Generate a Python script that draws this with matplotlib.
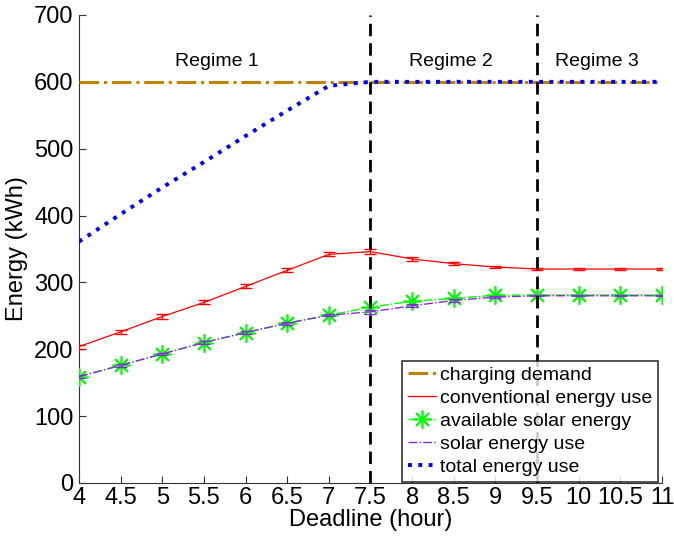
import matplotlib
matplotlib.use("Agg")
import matplotlib.pyplot as plt
from matplotlib.lines import Line2D

plt.rcParams['font.family'] = ['Liberation Sans', 'DejaVu Sans']

deadline = [4, 4.5, 5, 5.5, 6, 6.5, 7, 7.5, 8, 8.5, 9, 9.5, 10, 10.5, 11]
charging_demand = [600] * 15
conventional = [204, 226, 249, 270, 294, 318, 342, 346, 335, 328, 323, 320, 320, 320, 320]
conventional_err = [3, 3, 3, 3, 3, 3, 3, 4, 3, 2, 2, 2, 1, 1, 1]
available_solar = [159, 176, 193, 210, 225, 239, 251, 263, 272, 276, 281, 281, 281, 281, 281]
solar_use = [159, 176, 193, 210, 225, 239, 251, 256, 265, 273, 278, 280, 280, 280, 280]
solar_err = [2, 2, 2, 2, 2, 2, 2, 3, 2, 2, 2, 1, 1, 1, 1]
total_use = [361, 402, 442, 480, 519, 557, 594, 600, 600, 600, 600, 600, 600, 600, 600]
regime_bounds = [7.5, 9.5]
regime_labels = ["Regime 1", "Regime 2", "Regime 3"]
regime_label_x = [5.65, 8.47, 10.22]
xticks = [4, 4.5, 5, 5.5, 6, 6.5, 7, 7.5, 8, 8.5, 9, 9.5, 10, 10.5, 11]
xticklabels = ["4", "4.5", "5", "5.5", "6", "6.5", "7", "7.5", "8", "8.5", "9", "9.5", "10", "10.5", "11"]
legend_labels = ['charging demand', 'conventional energy use', 'available solar energy',
                 'solar energy use', 'total energy use']

fig = plt.figure(figsize=(6.74, 5.4), dpi=100)
ax = fig.add_axes([0.1172, 0.1056, 0.865, 0.8667])

c_dem, c_conv, c_avail, c_use, c_tot = '#C08000', 'red', '#00FF00', '#8A2BE2', 'blue'

ax.plot(deadline, charging_demand, color=c_dem, linestyle='-.', linewidth=2.2, zorder=3)
ax.errorbar(deadline, conventional, yerr=conventional_err, color=c_conv, linewidth=0.9,
            capsize=4, elinewidth=0.9, zorder=3)
ax.plot(deadline, available_solar, color=c_avail, linestyle='-.', linewidth=1,
        marker=(8, 2, 0), markersize=13, markeredgewidth=1.2, zorder=3)
ax.errorbar(deadline, solar_use, yerr=solar_err, color=c_use, linestyle='-.', linewidth=1,
            capsize=4, elinewidth=0.9, zorder=4)
ax.plot(deadline, total_use, color=c_tot, linestyle=':', linewidth=2.8, zorder=4)

for xb in regime_bounds:
    ax.axvline(xb, color='black', linestyle='--', linewidth=2, dashes=(4.5, 2.5), zorder=5)

for xl, lab in zip(regime_label_x, regime_labels):
    ax.text(xl, 630, lab, ha='center', va='center', fontsize=14)

ax.set_xlim(4, 11)
ax.set_ylim(0, 700)
ax.set_xticks(xticks)
ax.set_xticklabels(xticklabels)
ax.set_yticks(range(0, 701, 100))
ax.spines['top'].set_visible(False)
ax.spines['right'].set_visible(False)
for s in ('left', 'bottom'):
    ax.spines[s].set_color('#333333')
ax.tick_params(direction='in', labelsize=17, length=5, colors='#333333', labelcolor='black')
ax.tick_params(axis='x', pad=3)
ax.tick_params(axis='y', pad=4)
ax.set_xlabel('Deadline (hour)', fontsize=17, labelpad=0)
ax.set_ylabel('Energy (kWh)', fontsize=17, labelpad=4)

handles = [
    Line2D([], [], color=c_dem, linestyle='-.', linewidth=2.2),
    Line2D([], [], color=c_conv, linewidth=0.9),
    Line2D([], [], color=c_avail, linestyle='-.', linewidth=1, marker=(8, 2, 0),
           markersize=13, markeredgewidth=1.2),
    Line2D([], [], color=c_use, linestyle='-.', linewidth=1),
    Line2D([], [], color=c_tot, linestyle=':', linewidth=2.8),
]
leg = ax.legend(handles, legend_labels, loc='lower right', bbox_to_anchor=(0.993, 0.003),
                fontsize=14, frameon=True, fancybox=False, edgecolor='black',
                handlelength=1.45, handletextpad=0.2, borderpad=0.3, labelspacing=0.27,
                borderaxespad=0.0)
leg.get_frame().set_linewidth(1.2)
leg.set_zorder(10)

fig.savefig('out.png', dpi=100)
